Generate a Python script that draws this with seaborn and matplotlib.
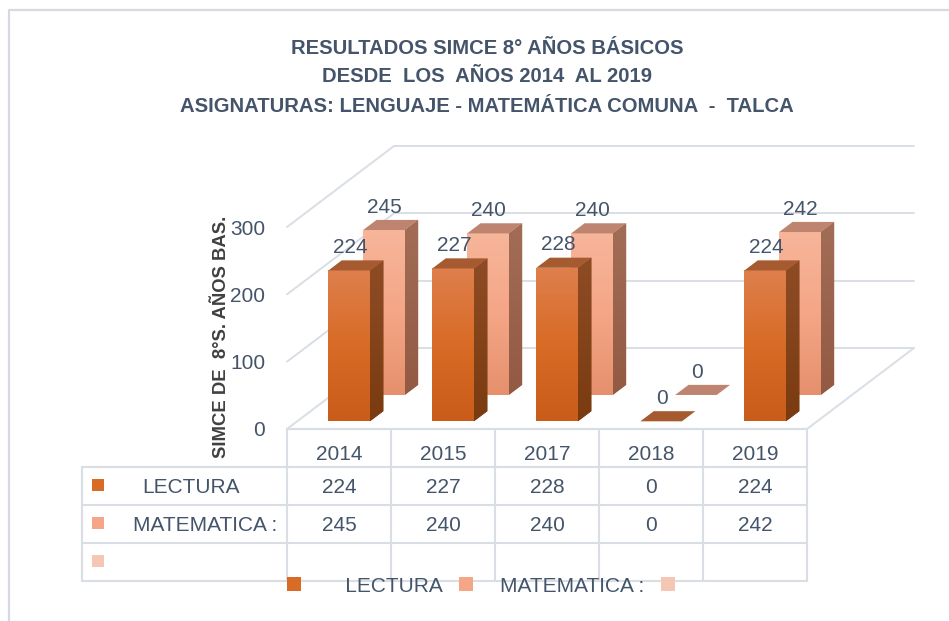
import numpy as np
import pandas as pd
import matplotlib
matplotlib.use("Agg")
import matplotlib.pyplot as plt
import matplotlib.transforms as mtrans
import seaborn as sns
from matplotlib import font_manager
from matplotlib.patches import Polygon, Rectangle, Patch
from matplotlib.lines import Line2D
from matplotlib.colors import LinearSegmentedColormap

# ---------------- data ----------------
years = ["2014", "2015", "2017", "2018", "2019"]
series_names = ["LECTURA", "MATEMATICA :"]
lectura = [224, 227, 228, 0, 224]
matematica = [245, 240, 240, 0, 242]
yticks = [0, 100, 200, 300]
title_lines = [
    "RESULTADOS SIMCE 8° AÑOS BÁSICOS",
    "DESDE  LOS  AÑOS 2014  AL 2019",
    "ASIGNATURAS: LENGUAJE - MATEMÁTICA COMUNA  -  TALCA",
]
ylabel_text = "SIMCE DE  8°S. AÑOS BAS."

# ---------------- style ----------------
W, H = 949, 621
sns.set_theme(style="white")
names = {f.name for f in font_manager.fontManager.ttflist}
HAS_NARROW = "Liberation Sans Narrow" in names
BASE = "Liberation Sans"
COND = "Liberation Sans Narrow" if HAS_NARROW else "Liberation Sans"
plt.rcParams["font.family"] = [BASE, "DejaVu Sans"]

TXT = "#44546A"
GRID = "#D9DEE5"
LECT_FRONT = ["#C95C1A", "#D86B25", "#DE7F4D"]
LECT_SIDE = ["#7A3B10", "#8E4C24"]
LECT_TOP = "#A65A30"
MAT_FRONT = ["#E6906D", "#F4A686", "#F7B59A"]
MAT_SIDE = ["#935943", "#A26D56"]
MAT_TOP = "#BE8470"
LEG3 = "#F6C6B4"

fig = plt.figure(figsize=(W / 100, H / 100), dpi=100)
fig.patch.set_facecolor("white")

X0, X1 = 287, 807          # pixel span of the category axis
Y0 = 429                   # pixel row of value 0 (front plane)
PXU = 0.6733               # pixels per value unit
YMAX = 460
ax = fig.add_axes([X0 / W, (H - Y0) / H, (X1 - X0) / W, YMAX * PXU / H])
ax.set_facecolor("none")

UX = (X1 - X0) / len(years)        # px per category
DX = 107 / UX                      # depth of the box in data x units
DY = 81 / PXU                      # depth of the box in value units
BAR_W = 0.40
BAR_D = 0.125
PX = mtrans.Affine2D().scale(1, -1).translate(0, H)   # pixel coords from top-left
BT = mtrans.blended_transform_factory(ax.transData, PX)

# ---------------- walls / grid ----------------
for v in yticks:
    ax.plot([-0.5, -0.5 + DX], [v, v + DY], color=GRID, lw=1.4, zorder=0.5, clip_on=False)
    ax.plot([-0.5 + DX, len(years) - 0.5 + DX], [v + DY, v + DY], color=GRID, lw=1.4,
            zorder=0.5, clip_on=False)
ax.plot([-0.5, len(years) - 0.5], [0, 0], color=GRID, lw=1.6, zorder=0.5, clip_on=False)
ax.plot([len(years) - 0.5, len(years) - 0.5 + DX], [0, DY], color=GRID, lw=1.4,
        zorder=0.5, clip_on=False)


def gradient_fill(artist, x0, x1, y0, y1, colors, z):
    if y1 - y0 <= 0:
        return
    cmap = LinearSegmentedColormap.from_list("g", colors)
    img = np.linspace(0, 1, 128).reshape(-1, 1)
    im = ax.imshow(img, cmap=cmap, extent=(x0, x1, y0, y1), origin="lower",
                   aspect="auto", interpolation="bilinear", zorder=z)
    im.set_clip_box(fig.bbox)
    im.set_clip_path(artist)


def draw_series(vals, f, front, side, top, zb):
    n0 = len(ax.patches)
    df = pd.DataFrame({"year": years, "value": vals})
    sns.barplot(data=df, x="year", y="value", order=years, color=front[1],
                saturation=1, width=BAR_W, errorbar=None, ax=ax)
    bars = ax.patches[n0:]
    ddx, ddy = BAR_D * DX, BAR_D * DY
    for p, v in zip(bars, vals):
        p.set_x(p.get_x() + f * DX)
        p.set_y(f * DY)
        p.set_linewidth(0)
        p.set_zorder(zb)
        p.set_clip_box(fig.bbox)
        x0 = p.get_x()
        x1 = x0 + p.get_width()
        yb = p.get_y()
        yt = yb + p.get_height()
        gradient_fill(p, x0, x1, yb, yt, front, zb + 0.01)
        sp = Polygon([(x1, yb), (x1, yt), (x1 + ddx, yt + ddy), (x1 + ddx, yb + ddy)],
                     closed=True, facecolor=side[1], edgecolor="none", zorder=zb,
                     clip_on=False)
        ax.add_patch(sp)
        gradient_fill(sp, x1, x1 + ddx, yb, yt + ddy, side, zb + 0.01)
        tp = Polygon([(x0, yt), (x1, yt), (x1 + ddx, yt + ddy), (x0 + ddx, yt + ddy)],
                     closed=True, facecolor=top, edgecolor="none", zorder=zb + 0.02,
                     clip_on=False)
        ax.add_patch(tp)
        ax.annotate(f"{v}", xy=((x0 + x1) / 2, yt), xytext=(0.5, 12.5),
                    textcoords="offset points", ha="center", va="baseline",
                    fontsize=15, color=TXT, zorder=6, annotation_clip=False)


draw_series(matematica, 0.42, MAT_FRONT, MAT_SIDE, MAT_TOP, 2)
draw_series(lectura, 0.095, LECT_FRONT, LECT_SIDE, LECT_TOP, 3)

ax.set_xlim(-0.5, len(years) - 0.5)
ax.set_ylim(0, YMAX)
ax.set_yticks(yticks)
ax.set_yticklabels([str(t) for t in yticks])
ax.tick_params(axis="y", length=0, pad=15.8, labelsize=15, labelcolor=TXT)
ax.tick_params(axis="x", bottom=False, labelbottom=False)
ax.set_xlabel("")
for s in ax.spines.values():
    s.set_visible(False)
ax.grid(False)
ax.set_ylabel(ylabel_text, fontfamily=[COND, "DejaVu Sans"], fontweight="bold",
              fontsize=15.5 if HAS_NARROW else 13.3, color="#404040", va="center")
ax.yaxis.set_label_coords((221 - X0) / (X1 - X0), (Y0 - 337) / (YMAX * PXU))

# ---------------- data table ----------------
row_lines = [467, 505, 543, 581]
for y in row_lines:
    ax.plot([82, X1], [y, y], color=GRID, lw=1.5, transform=PX, clip_on=False, zorder=0.5)
for i in range(len(years) + 1):
    ax.plot([i - 0.5, i - 0.5], [Y0, 581], color=GRID, lw=1.5, transform=BT,
            clip_on=False, zorder=0.5)
ax.plot([82, 82], [467, 581], color=GRID, lw=1.5, transform=PX, clip_on=False, zorder=0.5)

for i, yr in enumerate(years):
    ax.text(i, 460.5, yr, transform=BT, ha="center", va="baseline", fontsize=15, color=TXT)
for vals, base in [(lectura, 493), (matematica, 531)]:
    for i, v in enumerate(vals):
        ax.text(i, base, f"{v}", transform=BT, ha="center", va="baseline",
                fontsize=15, color=TXT)
for name, cx, base in [(series_names[0], 191, 493), (series_names[1], 205, 531)]:
    ax.text(cx, base, name, transform=PX, ha="center", va="baseline", fontsize=15,
            color=TXT, clip_on=False)
for col, ytop in [(LECT_FRONT[1], 479), (MAT_FRONT[1], 517), (LEG3, 555)]:
    ax.add_patch(Rectangle((92, ytop), 12, 12, transform=PX, facecolor=col,
                           edgecolor="none", clip_on=False))

# ---------------- legend ----------------
handles = [Patch(facecolor=LECT_FRONT[1], edgecolor="none"),
           Patch(facecolor=MAT_FRONT[1], edgecolor="none"),
           Patch(facecolor=LEG3, edgecolor="none")]
labels = ["   " + series_names[0], series_names[1], ""]
fig.legend(handles, labels, loc="center left", bbox_to_anchor=(287 / W, (H - 586) / H),
           ncol=3, frameon=False, fontsize=15, labelcolor=TXT, handlelength=0.67,
           handleheight=0.67, handletextpad=1.3, columnspacing=0.8, borderpad=0,
           borderaxespad=0)

# ---------------- title ----------------
tsize = 16 if HAS_NARROW else 14.6
for line, base in zip(title_lines, [53.5, 82.5, 111.5]):
    fig.text(487 / W, 1 - base / H, line, ha="center", va="baseline",
             fontfamily=[COND, "DejaVu Sans"], fontweight="bold", fontsize=tsize, color=TXT)

# ---------------- outer frame ----------------
fig.add_artist(Line2D([9, 9, 960], [640, 10, 10], transform=PX, color="#D5DAE2", lw=1.6))

fig.savefig("out.png", dpi=100, facecolor="white")
